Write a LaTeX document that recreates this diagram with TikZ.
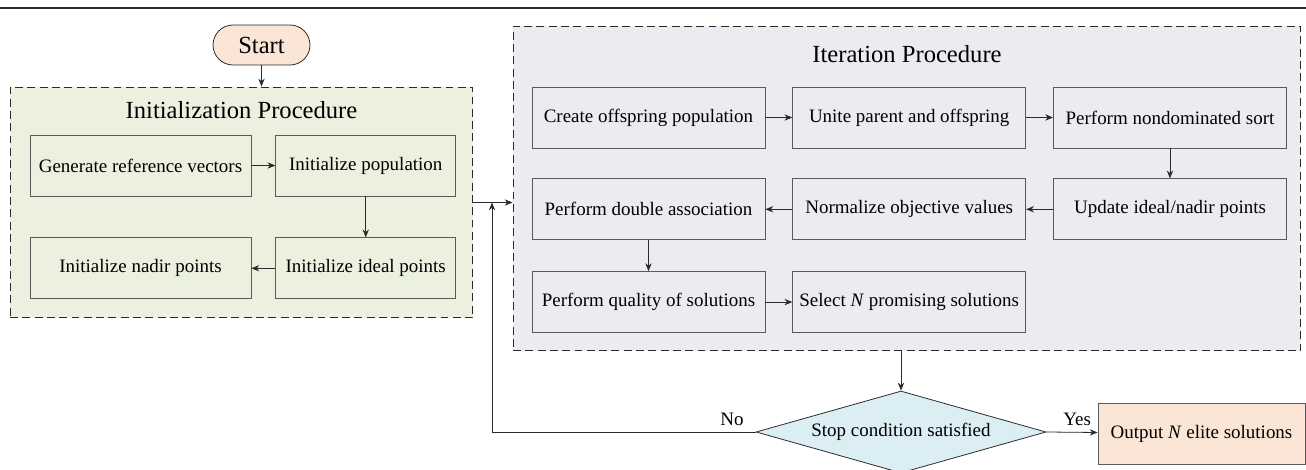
\documentclass[tikz,border=0pt]{standalone}
\usepackage{fontspec}
\setmainfont{Liberation Serif}
\usetikzlibrary{positioning,shapes.geometric,arrows.meta}
\definecolor{Peach}{HTML}{FBE5D6}
\definecolor{Olive}{HTML}{EBF1DE}
\definecolor{Lilac}{HTML}{EDEAF2}
\definecolor{Aqua}{HTML}{DAEEF3}
\definecolor{Edge}{HTML}{5A5A5A}
\definecolor{Ink}{HTML}{2B2B2B}

\begin{document}
\begin{tikzpicture}[x=0.02cm,y=-0.02cm,>={Stealth[length=4.5pt,width=3.6pt]},
    font=\rmfamily\fontsize{10.8}{13}\selectfont,
    box/.style={draw=Edge,line width=0.45pt,minimum height=1.22cm,inner sep=0pt},
    frame/.style={draw=Ink,dash pattern=on 4.5pt off 2.5pt,line width=0.55pt},
    title/.style={font=\rmfamily\fontsize{14}{16}\selectfont,anchor=base},
    link/.style={->,draw=Ink,line width=0.45pt}]
    \useasboundingbox (0,0) rectangle (1306,470);
    \draw[Ink,line width=0.9pt] (0,8) -- (1306,8);
    \node[draw=Ink,fill=Peach,line width=0.45pt,rounded corners=0.4cm,minimum width=1.94cm,minimum height=0.8cm,font=\rmfamily\fontsize{14}{16}\selectfont] (start) at (261.5,45) {Start};

    \node[frame,fill=Olive,minimum width=9.26cm,minimum height=4.62cm] (init) at (241.5,202.5) {};
    \node[title] (inittitle) at (241.5,118) {Initialization Procedure};
    \node[box,minimum width=4.42cm] (gen) at (140.5,165.5) {Generate reference vectors};
    \node[box,minimum width=3.6cm,right=0.48cm of gen] (pop) {Initialize population};
    \node[box,minimum width=3.6cm,below=0.82cm of pop] (ideal) {Initialize ideal points};
    \node[box,minimum width=4.42cm,below=0.82cm of gen] (nadir) {Initialize nadir points};

    \node[frame,fill=Lilac,minimum width=15.76cm,minimum height=6.5cm] (iter) at (907,188.5) {};
    \node[title] (itertitle) at (907,62) {Iteration Procedure};
    \node[box,minimum width=4.66cm] (create) at (648.5,117.5) {Create offspring population};
    \node[box,minimum width=4.66cm,right=0.54cm of create] (unite) {Unite parent and offspring};
    \node[box,minimum width=4.66cm,right=0.54cm of unite] (sort) {Perform nondominated sort};
    \node[box,minimum width=4.66cm,below=0.6cm of sort] (update) {Update ideal/nadir points};
    \node[box,minimum width=4.66cm,below=0.6cm of unite] (norm) {Normalize objective values};
    \node[box,minimum width=4.66cm,below=0.6cm of create] (assoc) {Perform double association};
    \node[box,minimum width=4.66cm,below=0.62cm of assoc] (quality) {Perform quality of solutions};
    \node[box,minimum width=4.66cm,below=0.62cm of norm] (select) {Select \textit{N} promising solutions};

    \node[diamond,draw=Ink,fill=Aqua,line width=0.45pt,aspect=3.5,inner sep=0pt,minimum width=5.8cm,minimum height=1.64cm] (stop) at (901,432) {Stop condition satisfied};
    \node[box,fill=Peach,minimum width=4.14cm] (output) at (1201.5,433.5) {Output \textit{N} elite solutions};
    \coordinate (join) at (492,202.5);

    \draw[link] (start) -- (start |- init.north);
    \draw[link] (gen) -- (pop);
    \draw[link] (pop) -- (ideal);
    \draw[link] (ideal) -- (nadir);
    \draw[link] (init.east) -- (init.east -| iter.west);
    \draw[link] (create) -- (unite);
    \draw[link] (unite) -- (sort);
    \draw[link] (sort) -- (update);
    \draw[link] (update) -- (norm);
    \draw[link] (norm) -- (assoc);
    \draw[link] (assoc) -- (quality);
    \draw[link] (quality) -- (select);
    \draw[link] (stop.north |- iter.south) -- (stop.north);
    \draw[link] (stop.west) -| node[pos=0.045,above] {No} (join);
    \draw[link] (stop.east) -- node[pos=0.6,above] {Yes} (output);
  \end{tikzpicture}
\end{document}
